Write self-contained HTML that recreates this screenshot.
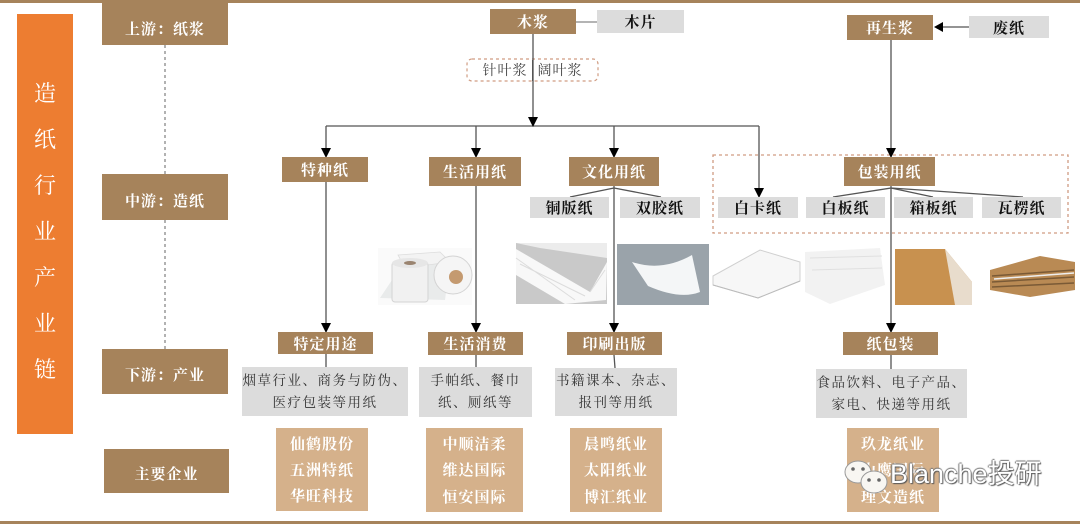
<!DOCTYPE html>
<html><head><meta charset="utf-8">
<style>
*{margin:0;padding:0;box-sizing:border-box}
body{width:1080px;height:524px;background:#fff;position:relative;overflow:hidden;font-family:"Liberation Serif","Noto Serif CJK SC",serif}
.a{position:absolute;display:flex;align-items:center;justify-content:center;text-align:center}
.br{background:#A6835B;color:#fff;font-size:15px;font-weight:bold;letter-spacing:1px}
.gr{background:#DCDCDC;color:#111;font-size:15px;font-weight:bold;letter-spacing:1px}
.ds{background:#DCDCDC;color:#333;font-size:13.5px;letter-spacing:1.5px;line-height:22px}
.tn{background:#D5B18B;color:#fff;font-size:15px;font-weight:bold;letter-spacing:1px;flex-direction:column;justify-content:space-around;padding:2px 0}
svg{position:absolute;left:0;top:0}
</style></head><body>
<div style="position:absolute;left:0;top:0;width:1080px;height:3px;background:#A6835B"></div>
<div style="position:absolute;left:0;top:521px;width:1080px;height:3px;background:#A6835B"></div>

<div class="a" style="left:17px;top:14px;width:56px;height:420px;background:#ED7D31;flex-direction:column;justify-content:flex-start;padding-top:56px;color:#fff;font-size:22px;line-height:46px;font-family:'Noto Serif CJK SC',serif">
<div>造</div><div>纸</div><div>行</div><div>业</div><div>产</div><div>业</div><div>链</div></div>

<svg width="1080" height="524">
<g stroke="#888" stroke-width="1.3" stroke-dasharray="3,3" fill="none">
<line x1="165" y1="45" x2="165" y2="174"/><line x1="165" y1="220" x2="165" y2="349"/>
</g>
<rect x="713" y="155" width="355" height="78" fill="none" stroke="#D09C82" stroke-width="1.3" stroke-dasharray="3,3"/>
<rect x="467" y="59" width="131" height="22" rx="5" fill="#fff" stroke="#D09C82" stroke-width="1.2" stroke-dasharray="3,3"/>
<g stroke="#555" stroke-width="1.3" fill="none">
<line x1="576" y1="22" x2="597" y2="22" stroke="#888"/>
<line x1="533" y1="34" x2="533" y2="120"/>
<line x1="326" y1="126" x2="759" y2="126"/>
<line x1="326" y1="126" x2="326" y2="150"/>
<line x1="476" y1="126" x2="476" y2="150"/>
<line x1="614" y1="126" x2="614" y2="150"/>
<line x1="759" y1="126" x2="759" y2="190"/>
<line x1="969" y1="27" x2="940" y2="27"/>
<line x1="891" y1="40" x2="891" y2="150"/>
<line x1="326" y1="182" x2="326" y2="325"/>
<line x1="476" y1="186" x2="476" y2="325"/>
<line x1="614" y1="186" x2="614" y2="325"/>
<line x1="891" y1="186" x2="891" y2="325"/>
<line x1="614" y1="188" x2="570" y2="197"/><line x1="614" y1="188" x2="661" y2="197"/>
<line x1="891" y1="188" x2="833" y2="197"/><line x1="891" y1="188" x2="933" y2="197"/><line x1="891" y1="188" x2="1023" y2="197"/>
<line x1="326" y1="354" x2="326" y2="367"/><line x1="476" y1="355" x2="476" y2="367"/>
<line x1="614" y1="355" x2="615" y2="368"/><line x1="891" y1="355" x2="891" y2="369"/>
</g>
<g fill="#000">
<polygon points="528,117 538,117 533,127"/>
<polygon points="321,148 331,148 326,158"/>
<polygon points="471,148 481,148 476,158"/>
<polygon points="609,148 619,148 614,158"/>
<polygon points="754,188 764,188 759,198"/>
<polygon points="886,148 896,148 891,158"/>
<polygon points="943,22 943,32 934,27"/>
<polygon points="321,323 331,323 326,333"/>
<polygon points="471,323 481,323 476,333"/>
<polygon points="609,323 619,323 614,333"/>
<polygon points="886,323 896,323 891,333"/>
</g>
<!-- images -->
<g>
<rect x="378" y="248" width="94" height="57" fill="#fafafa"/>
<path d="M380,298 L400,268 L450,262 L445,300 Z" fill="#e9ebeb"/>
<path d="M398,255 L440,252 L450,262 L405,268 Z" fill="#f3f3f3" stroke="#ddd" stroke-width="0.8"/>
<rect x="392" y="262" width="36" height="40" rx="3" fill="#f1f1f1" stroke="#d4d4d4"/>
<ellipse cx="410" cy="263" rx="18" ry="5" fill="#e6e6e6"/>
<ellipse cx="410" cy="263" rx="6" ry="2" fill="#9a8470"/>
<circle cx="453" cy="275" r="19" fill="#f5f5f5" stroke="#d4d4d4"/>
<circle cx="456" cy="277" r="7" fill="#c49a70"/>
<rect x="516" y="243" width="91" height="61" fill="#c9c9c9"/>
<path d="M516,243 L607,243 L607,258 L540,248 Z" fill="#ececec"/>
<path d="M516,249 L590,292 L607,262 L606,300 L565,304 L516,275 Z" fill="#f8f8f8"/>
<path d="M516,258 L575,300 M520,264 L585,296 M590,292 L605,270" fill="none" stroke="#dcdcdc"/>
<rect x="617" y="244" width="92" height="61" fill="#9aa3aa"/>
<path d="M632,262 Q662,272 692,255 L700,292 Q680,300 648,286 Z" fill="#f4f6f7"/>
<path d="M713,276 L760,250 L800,262 L800,281 L758,298 L713,285 Z" fill="#f7f7f7" stroke="#d0d0d0"/>
<path d="M713,285 L758,298 L800,281" fill="none" stroke="#bbb"/>
<path d="M805,252 L880,248 L885,285 L830,304 L805,292 Z" fill="#f2f2f2"/>
<path d="M810,258 L882,256 M812,270 L882,268" stroke="#e0e0e0"/>
<rect x="895" y="249" width="77" height="56" fill="#fff"/>
<path d="M895,249 L945,249 L972,282 L955,305 L895,305 Z" fill="#C8914F"/>
<path d="M945,249 L972,282 L972,305 L955,305 Z" fill="#e8dccc"/>
<path d="M990,270 L1040,256 L1075,262 L1075,290 L1030,297 L990,290 Z" fill="#B98A54"/>
<path d="M992,276 L1074,270 M992,282 L1074,277 M992,287 L1074,283" stroke="#7a5a36" stroke-width="1.5"/>
<path d="M994,279 L1074,273" stroke="#eee" stroke-width="1.5"/>
</g>
</svg>

<div class="a br" style="left:102px;top:3px;width:126px;height:42px;padding-top:8px">上游：纸浆</div>
<div class="a br" style="left:102px;top:174px;width:126px;height:46px;padding-top:6px">中游：造纸</div>
<div class="a br" style="left:102px;top:349px;width:126px;height:45px;padding-top:6px">下游：产业</div>
<div class="a br" style="left:104px;top:449px;width:125px;height:44px;padding-top:4px">主要企业</div>

<div class="a br" style="left:490px;top:9px;width:86px;height:25px">木浆</div>
<div class="a gr" style="left:597px;top:10px;width:87px;height:23px">木片</div>
<div class="a" style="left:467px;top:59px;width:131px;height:22px;color:#444;font-size:14px;letter-spacing:1px">针叶浆<span style="display:inline-block;width:10px"></span>阔叶浆</div>
<div style="position:absolute;left:532px;top:60px;width:1.3px;height:21px;background:#555"></div>

<div class="a br" style="left:847px;top:15px;width:86px;height:25px">再生浆</div>
<div class="a gr" style="left:969px;top:16px;width:80px;height:22px">废纸</div>

<div class="a br" style="left:282px;top:157px;width:86px;height:25px">特种纸</div>
<div class="a br" style="left:429px;top:157px;width:92px;height:29px">生活用纸</div>
<div class="a br" style="left:569px;top:157px;width:90px;height:29px">文化用纸</div>
<div class="a br" style="left:844px;top:157px;width:91px;height:29px">包装用纸</div>

<div class="a gr" style="left:530px;top:197px;width:79px;height:21px">铜版纸</div>
<div class="a gr" style="left:620px;top:197px;width:80px;height:21px">双胶纸</div>
<div class="a gr" style="left:718px;top:197px;width:80px;height:21px">白卡纸</div>
<div class="a gr" style="left:806px;top:197px;width:79px;height:21px">白板纸</div>
<div class="a gr" style="left:894px;top:197px;width:79px;height:21px">箱板纸</div>
<div class="a gr" style="left:982px;top:197px;width:79px;height:21px">瓦楞纸</div>

<div class="a br" style="left:278px;top:332px;width:95px;height:22px">特定用途</div>
<div class="a br" style="left:428px;top:332px;width:95px;height:23px">生活消费</div>
<div class="a br" style="left:567px;top:332px;width:95px;height:23px">印刷出版</div>
<div class="a br" style="left:843px;top:332px;width:95px;height:23px">纸包装</div>

<div class="a ds" style="left:242px;top:367px;width:166px;height:49px">烟草行业、商务与防伪、<br>医疗包装等用纸</div>
<div class="a ds" style="left:419px;top:367px;width:113px;height:50px">手帕纸、餐巾<br>纸、厕纸等</div>
<div class="a ds" style="left:555px;top:368px;width:122px;height:48px">书籍课本、杂志、<br>报刊等用纸</div>
<div class="a ds" style="left:816px;top:369px;width:151px;height:49px">食品饮料、电子产品、<br>家电、快递等用纸</div>

<div class="a tn" style="left:276px;top:428px;width:92px;height:83px"><div>仙鹤股份</div><div>五洲特纸</div><div>华旺科技</div></div>
<div class="a tn" style="left:426px;top:428px;width:97px;height:84px"><div>中顺洁柔</div><div>维达国际</div><div>恒安国际</div></div>
<div class="a tn" style="left:570px;top:428px;width:92px;height:84px"><div>晨鸣纸业</div><div>太阳纸业</div><div>博汇纸业</div></div>
<div class="a tn" style="left:847px;top:428px;width:92px;height:84px"><div>玖龙纸业</div><div>山鹰国际</div><div>理文造纸</div></div>

<svg width="1080" height="524" style="pointer-events:none">
<g fill="#f8f6f2" stroke="#999" stroke-width="1">
<ellipse cx="858" cy="472" rx="13" ry="11"/>
<ellipse cx="874" cy="482" rx="13" ry="11"/>
</g>
<g fill="#666"><circle cx="853" cy="469" r="1.8"/><circle cx="863" cy="469" r="1.8"/><circle cx="869" cy="480" r="1.8"/><circle cx="879" cy="480" r="1.8"/></g>
</svg>
<div style="position:absolute;left:890px;top:458px;font-family:'Liberation Sans','Noto Sans CJK SC',sans-serif;font-size:27px;color:#fff;text-shadow:1px 1px 1px #555,-1px 0 1px #777,0 -1px 1px #777;line-height:32px">Blanche投研</div>
</body></html>
